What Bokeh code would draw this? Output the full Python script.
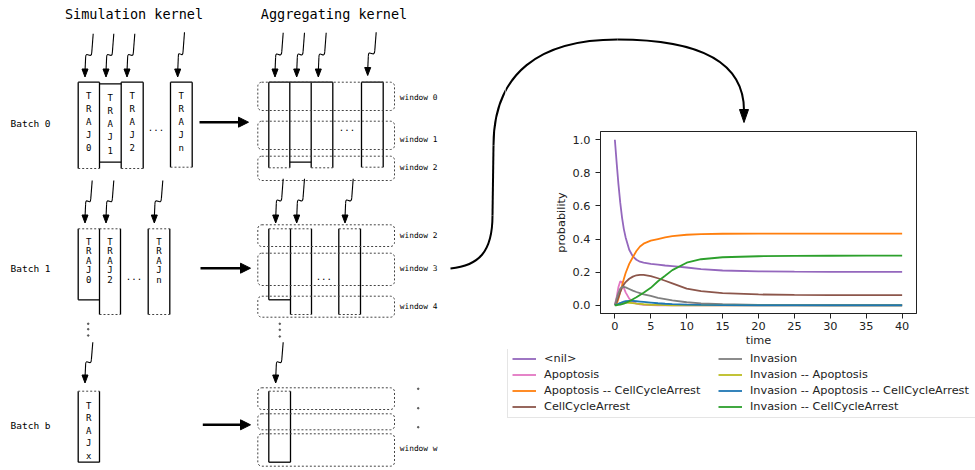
from bokeh.plotting import figure
from bokeh.models import (Range1d, Legend, LegendItem, FixedTicker,
                          PrintfTickFormatter, ColumnDataSource)
from bokeh.layouts import row, column
from bokeh.core.properties import value
from bokeh.embed import file_html
from bokeh.resources import INLINE

# ---------------- chart data ----------------
time = [0, 0.25, 0.5, 0.75, 1, 1.25, 1.5, 2, 2.5, 3, 3.5, 4, 5, 6, 7, 8,
        10, 12, 15, 20, 25, 30, 35, 40]
nil = [1.0, 0.86, 0.73, 0.62, 0.53, 0.46, 0.41, 0.335, 0.295, 0.275, 0.263, 0.257,
       0.25, 0.245, 0.24, 0.236, 0.228, 0.218, 0.21, 0.205, 0.203, 0.202, 0.202, 0.202]
apoptosis = [0, 0.05, 0.11, 0.145, 0.14, 0.105, 0.078, 0.04, 0.02, 0.01, 0.005, 0.003,
             0.001, 0, 0, 0, 0, 0, 0, 0, 0, 0, 0, 0]
apo_cca = [0, 0.01, 0.04, 0.08, 0.12, 0.158, 0.195, 0.25, 0.29, 0.328, 0.355, 0.372,
           0.39, 0.40, 0.41, 0.418, 0.426, 0.43, 0.432, 0.433, 0.433, 0.433, 0.433, 0.433]
cca = [0, 0.02, 0.05, 0.08, 0.105, 0.125, 0.14, 0.16, 0.173, 0.181, 0.184, 0.183,
       0.176, 0.163, 0.148, 0.132, 0.1, 0.085, 0.073, 0.065, 0.062, 0.061, 0.061, 0.061]
invasion = [0, 0.04, 0.075, 0.1, 0.11, 0.111, 0.108, 0.098, 0.088, 0.08, 0.073, 0.066,
            0.056, 0.045, 0.037, 0.029, 0.018, 0.011, 0.006, 0.002, 0.001, 0, 0, 0]
inv_apo = [0, 0.004, 0.009, 0.013, 0.015, 0.016, 0.016, 0.015, 0.013, 0.01, 0.008, 0.006,
           0.003, 0.002, 0.001, 0, 0, 0, 0, 0, 0, 0, 0, 0]
inv_apo_cca = [0, 0.003, 0.008, 0.013, 0.018, 0.022, 0.024, 0.026, 0.026, 0.024, 0.022, 0.02,
               0.016, 0.012, 0.009, 0.007, 0.004, 0.002, 0.001, 0, 0, 0, 0, 0]
inv_cca = [0, 0, 0.002, 0.004, 0.007, 0.01, 0.014, 0.024, 0.036, 0.048, 0.062, 0.076,
           0.105, 0.145, 0.178, 0.212, 0.257, 0.278, 0.29, 0.296, 0.298, 0.299, 0.3, 0.3]

series_keys = ["nil", "apoptosis", "apo_cca", "cca", "invasion", "inv_apo", "inv_apo_cca", "inv_cca"]
series_names = ["<nil>", "Apoptosis", "Apoptosis -- CellCycleArrest", "CellCycleArrest",
                "Invasion", "Invasion -- Apoptosis", "Invasion -- Apoptosis -- CellCycleArrest",
                "Invasion -- CellCycleArrest"]
series_colors = ["#9467bd", "#e377c2", "#ff7f0e", "#8c564b",
                 "#7f7f7f", "#bcbd22", "#1f77b4", "#2ca02c"]
x_ticks = [0, 5, 10, 15, 20, 25, 30, 35, 40]
y_ticks = [0.0, 0.2, 0.4, 0.6, 0.8, 1.0]

# ---------------- diagram texts ----------------
titles = ["Simulation kernel", "Aggregating kernel"]
batch_labels = ["Batch 0", "Batch 1", "Batch b"]
window_labels = ["window 0", "window 1", "window 2", "window 2", "window 3", "window 4", "window w"]

MONO = value("DejaVu Sans Mono")


def canvas(w, h, x0, x1, y0, y1):
    f = figure(width=w, height=h, x_range=Range1d(x0, x1), y_range=Range1d(y1, y0),
               toolbar_location=None, output_backend="svg", min_border=0,
               x_axis_location=None, y_axis_location=None)
    f.grid.visible = False
    f.outline_line_color = None
    return f


def draw_curve(f):
    f.bezier(x0=[450, 493, 617], y0=[268, 145, 39], x1=[492, 617, 743.5], y1=[215, 39, 110],
             cx0=[478, 493, 700], cy0=[265, 72, 39], cx1=[492, 540, 743.5], cy1=[252, 39, 62],
             line_color="black", line_width=2)
    f.line([492, 493], [215, 145], line_color="black", line_width=2)
    f.patch([739, 748, 743.5], [109, 109, 122], color="black")


# ---------------- left diagram (page pixels 0..505 x 0..470) ----------------
d = canvas(505, 470, 0, 505, 0, 470)

solid = []
dashed = []


def S(x0, y0, x1, y1):
    solid.append(([x0, x1], [y0, y1]))


def D(x0, y0, x1, y1):
    dashed.append(([x0, x1], [y0, y1]))


# Batch 0 simulation
S(77.7, 81.7, 99, 81.7); S(77.7, 81.7, 77.7, 168); S(99, 81.7, 99, 168)
S(99, 83.3, 120.7, 83.3); S(99, 161.7, 120.7, 161.7)
S(120.7, 81.7, 120.7, 168); S(120.7, 81.7, 142.7, 81.7); S(142.7, 81.7, 142.7, 168)
S(170, 81.7, 191.7, 81.7); S(170, 81.7, 170, 166.7); S(191.7, 81.7, 191.7, 166.7)
D(77.7, 168, 99, 168); D(120.7, 168, 142.7, 168); D(170, 166.7, 191.7, 166.7)
# Batch 0 aggregation
S(268.3, 81.7, 332.3, 81.7); S(361, 81.7, 382.7, 81.7)
for xx in [268.3, 289.3, 310.7, 332.3]:
    S(xx, 81.7, xx, 167.3)
for xx in [361, 382.7]:
    S(xx, 81.7, xx, 166.7)
S(289.3, 161.7, 310.7, 161.7)
D(268.3, 167.3, 289.3, 167.3); D(310.7, 167.3, 332.3, 167.3); D(361, 166.7, 382.7, 166.7)
# Batch 1 simulation
S(77.7, 228.3, 77.7, 299.3); S(77.7, 299.3, 99, 299.3)
for xx in [99, 120, 147.7, 169.3]:
    S(xx, 228.3, xx, 314)
D(77.7, 228.3, 99, 228.3); D(99, 228.3, 120, 228.3); D(147.7, 228.3, 169.3, 228.3)
D(99, 314, 120, 314); D(147.7, 314, 169.3, 314)
# Batch 1 aggregation
S(268.3, 228.3, 268.3, 299.3); S(268.3, 299.3, 290, 299.3)
for xx in [290, 311, 338.3, 360]:
    S(xx, 228.3, xx, 314)
D(268.3, 228.3, 290, 228.3); D(290, 228.3, 311, 228.3); D(338.3, 228.3, 360, 228.3)
D(290, 314, 311, 314); D(338.3, 314, 360, 314)
# Batch b
S(77.7, 390.7, 77.7, 461.7); S(99, 390.7, 99, 461.7); S(77.7, 461.7, 99, 461.7)
D(77.7, 390.7, 99, 390.7)
S(268.3, 390.7, 268.3, 461.7); S(290, 390.7, 290, 461.7); S(268.3, 461.7, 290, 461.7)
D(268.3, 390.7, 290, 390.7)

d.multi_line([s[0] for s in solid], [s[1] for s in solid], line_color="black", line_width=1.3)
d.multi_line([s[0] for s in dashed], [s[1] for s in dashed], line_color="#444444",
             line_width=1, line_dash="2 2")

# window boxes
win_top = [81.7, 120.7, 155.7, 224.3, 252.7, 295.7, 387.3, 413.3, 433.3]
win_bot = [110, 149, 180, 246, 285, 316.7, 409, 429.3, 465.7]
d.quad(left=[257.3] * 9, right=[394] * 9, top=win_top, bottom=win_bot,
       fill_color=None, line_color="#444444", line_width=1, line_dash="2 2", border_radius=4)

# squiggly arrows
arrows = [(92.7, 33.3, 84.5, 76.5), (113.3, 33.3, 105.5, 76.5), (134.3, 33.3, 126.5, 76.5),
          (184, 31.7, 177.2, 76.5),
          (282.7, 32.3, 274.5, 76.5), (304, 32.3, 296.2, 76.5), (325.7, 32.3, 317.8, 76.5),
          (375.7, 31.7, 367.2, 75),
          (91.7, 180, 84.5, 222.5), (113.3, 180, 105.5, 222.5), (162.3, 180, 153.8, 222.5),
          (282.7, 178.3, 275.2, 222.5), (304, 178.3, 296.2, 222.5), (352.7, 178.3, 344.5, 222.5),
          (92.3, 341.7, 84.5, 382.5), (282.7, 341.7, 275.2, 382.5)]
axs, ays, hx, hy = [], [], [], []
bz = {k: [] for k in ["x0", "y0", "x1", "y1", "cx0", "cy0", "cx1", "cy1"]}
for xt, yt, xb, yb in arrows:
    L = yb - yt
    axs.append([xt, xt - 1.4]); ays.append([yt, yt + 0.42 * L])
    bz["x0"].append(xt - 1.4); bz["y0"].append(yt + 0.42 * L)
    bz["cx0"].append(xt - 1.6); bz["cy0"].append(yt + 0.62 * L)
    bz["cx1"].append(xb + 0.5); bz["cy1"].append(yt + 0.36 * L)
    bz["x1"].append(xb + 0.6); bz["y1"].append(yt + 0.56 * L)
    axs.append([xb + 0.6, xb]); ays.append([yt + 0.56 * L, yb - 5])
    hx.append([xb - 3, xb + 3, xb]); hy.append([yb - 8, yb - 8, yb])
d.multi_line(axs, ays, line_color="black", line_width=1.1)
d.bezier(**bz, line_color="black", line_width=1.1)
d.patches(hx, hy, color="black")

# big arrows
big = [(199, 248, 121.7), (200, 250, 267.7), (202.3, 250, 424.3)]
d.multi_line([[a, b - 8] for a, b, y in big], [[y, y] for a, b, y in big], line_color="black", line_width=2.6)
d.patches([[b - 10, b - 10, b] for a, b, y in big], [[y - 5, y + 5, y] for a, b, y in big], color="black")

# dots
d.scatter([87.7, 87.7, 87.7, 279.3, 279.3, 279.3, 417.7, 417.7, 417.7],
          [323.3, 328.7, 335, 323.3, 329.3, 336, 388.3, 407.7, 426.7],
          size=1.6, color="#555555")

# texts
d.text(x=[133.5, 333.5], y=[13, 13], text=titles, text_font=MONO, text_font_size=value("13.5px"),
       text_align="center", text_baseline="middle", text_color="black")
d.text(x=[10, 10, 10], y=[123, 268, 425], text=batch_labels, text_font=MONO,
       text_font_size=value("9.5px"), text_align="left", text_baseline="middle", text_color="black")
d.text(x=[399.3] * 7, y=[96.7, 139.3, 166.7, 235, 267.7, 306, 448.3], text=window_labels,
       text_font=MONO, text_font_size=value("7.8px"), text_align="left", text_baseline="middle",
       text_color="black")
d.text(x=[155.5, 346.5, 133.5, 323.3], y=[127, 127, 276, 275.5], text=["..."] * 4, text_font=MONO,
       text_font_size=value("9px"), text_align="center", text_baseline="middle", text_color="black")

traj_boxes = [(88.3, "TRAJ0", [95, 108, 121, 134, 147]), (109.8, "TRAJ1", [97.5, 110.5, 123.5, 136.5, 149.5]),
              (131.7, "TRAJ2", [95, 108, 121, 134, 147]), (180.8, "TRAJn", [95, 108, 121, 134, 147]),
              (88.3, "TRAJ0", [241, 250.5, 260, 269.5, 279]), (109.5, "TRAJ2", [241, 250.5, 260, 269.5, 279]),
              (158.5, "TRAJn", [241, 250.5, 260, 269.5, 279]),
              (88.3, "TRAJx", [405, 417.5, 430, 442.5, 455])]
tx, ty, tt = [], [], []
for cx, name, ys in traj_boxes:
    for ch, yy in zip(name, ys):
        tx.append(cx); ty.append(yy); tt.append(ch)
d.text(x=tx, y=ty, text=tt, text_font=MONO, text_font_size=value("9px"),
       text_align="center", text_baseline="middle", text_color="black")

draw_curve(d)

# ---------------- top-right arrow canvas ----------------
a = canvas(470, 125, 505, 975, 0, 125)
draw_curve(a)

# ---------------- chart ----------------
src = ColumnDataSource(dict(time=time, nil=nil, apoptosis=apoptosis, apo_cca=apo_cca, cca=cca,
                            invasion=invasion, inv_apo=inv_apo, inv_apo_cca=inv_apo_cca, inv_cca=inv_cca))
c = figure(width=470, height=224, x_range=Range1d(-2, 42), y_range=Range1d(-0.05, 1.05),
           toolbar_location=None, output_backend="svg",
           min_border_left=95, min_border_right=59, min_border_top=6, min_border_bottom=35,
           x_axis_label="time", y_axis_label="probability")
c.grid.visible = False
c.outline_line_color = "#222222"
c.outline_line_width = 1
c.xaxis.ticker = FixedTicker(ticks=x_ticks)
c.yaxis.ticker = FixedTicker(ticks=y_ticks)
c.yaxis.formatter = PrintfTickFormatter(format="%.1f")
for ax in (c.xaxis[0], c.yaxis[0]):
    ax.major_label_text_font = "DejaVu Sans"
    ax.major_label_text_font_size = "11.3px"
    ax.major_label_text_color = "#222222"
    ax.axis_label_text_font = "DejaVu Sans"
    ax.axis_label_text_font_size = "11.3px"
    ax.axis_label_text_font_style = "normal"
    ax.axis_label_text_color = "#222222"
    ax.major_tick_out = 5
    ax.major_tick_in = 0
    ax.minor_tick_out = 0
    ax.minor_tick_in = 0
    ax.axis_line_color = "#222222"
    ax.major_tick_line_color = "#222222"
c.xaxis.major_label_standoff = 3
c.xaxis.axis_label_standoff = 1
c.yaxis.major_label_standoff = 5
c.yaxis.axis_label_standoff = 2

for key, col in zip(series_keys, series_colors):
    c.line("time", key, source=src, line_color=col, line_width=1.8)

# ---------------- legend (own canvas below the chart) ----------------
lg = canvas(470, 121, 0, 1, 0, 1)
# legend keys: renderers styled like the series, their points lie outside the visible range
keys = [lg.line(x=[5, 6], y=[5, 6], line_color=col, line_width=1.8) for col in series_colors]
common = dict(orientation="vertical", padding=4, spacing=3, margin=0, glyph_width=24,
              glyph_height=13, label_height=13, label_standoff=8,
              label_text_font="DejaVu Sans", label_text_font_size="11.3px",
              label_text_color="#222222")
leg1 = Legend(items=[LegendItem(label=n, renderers=[r]) for n, r in zip(series_names[:4], keys[:4])],
              location=(2, 52), label_width=430, border_line_color="#cccccc",
              background_fill_color="white", background_fill_alpha=0.8, **common)
leg2 = Legend(items=[LegendItem(label=n, renderers=[r]) for n, r in zip(series_names[4:], keys[4:])],
              location=(213, 57), border_line_color=None, background_fill_alpha=0, **common)
lg.add_layout(leg1, "center")
lg.add_layout(leg2, "center")

layout = row(d, column(column(a), column(c), column(lg)))
open("out.html", "w").write(file_html(layout, INLINE))
